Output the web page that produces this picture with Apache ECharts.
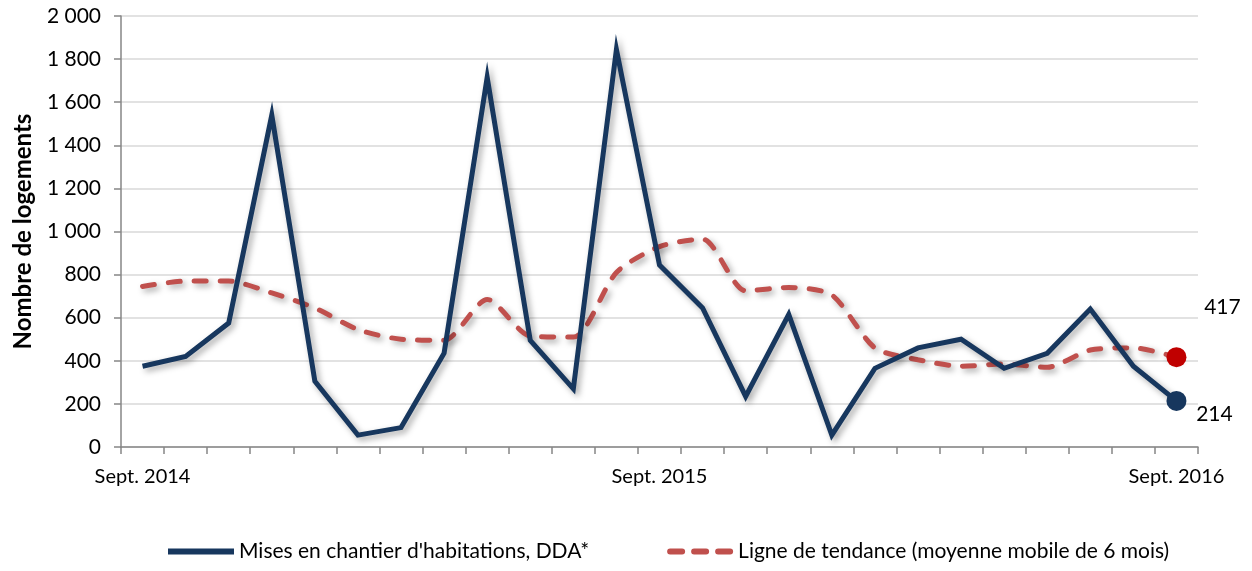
<!DOCTYPE html>
<html>
<head>
<meta charset="utf-8">
<script src="https://cdn.jsdelivr.net/npm/echarts@6/dist/echarts.min.js"></script>
<style>
	html, body { margin: 0; padding: 0; background: #fff; }
	#main { width: 1252px; height: 571px; }
</style>
</head>
<body>
<div id="main"></div>
<script>
// mois, de sept. 2014 à sept. 2016
var months = ['Sept. 2014', 'Oct. 2014', 'Nov. 2014', 'Déc. 2014', 'Janv. 2015', 'Févr. 2015', 'Mars 2015', 'Avr. 2015', 'Mai 2015', 'Juin 2015', 'Juil. 2015', 'Août 2015',
	'Sept. 2015', 'Oct. 2015', 'Nov. 2015', 'Déc. 2015', 'Janv. 2016', 'Févr. 2016', 'Mars 2016', 'Avr. 2016', 'Mai 2016', 'Juin 2016', 'Juil. 2016', 'Août 2016', 'Sept. 2016'];
var chantiers = [375, 420, 575, 1540, 305, 55, 90, 435, 1715, 495, 270, 1845, 845, 645, 235, 615, 55, 365, 460, 500, 365, 435, 640, 375, 214];
var tendance = [745, 770, 770, 715, 645, 545, 500, 495, 685, 515, 510, 810, 930, 965, 725, 740, 705, 460, 405, 375, 385, 370, 450, 460, 417];
var yTicks = [0, 200, 400, 600, 800, 1000, 1200, 1400, 1600, 1800, 2000];

var navy = '#17375e';
var rouge = '#c0504d';
var police = 'Lato, "Open Sans", sans-serif';

// dernier point : rond + étiquette
function lastPoint(arr, color, offset) {
	return arr.map(function (v, i) {
		if (i < arr.length - 1) return v;
		return {
			value: v,
			symbol: 'circle',
			symbolSize: 20,
			itemStyle: { color: color },
			label: {
				show: true,
				position: 'inside',
				offset: offset,
				fontSize: 21,
				fontFamily: police,
				color: '#000'
			}
		};
	});
}

var shadow = {
	shadowColor: 'rgba(0,0,0,0.35)',
	shadowBlur: 6,
	shadowOffsetX: 3,
	shadowOffsetY: 3
};

var myChart = echarts.init(document.getElementById('main'));
var option = {
	animation: false,
	grid: {
		left: 121,
		right: 54,
		top: 16,
		bottom: 124
	},
	legend: {
		bottom: 4,
		left: 163,
		itemWidth: 66,
		itemHeight: 6,
		itemGap: 78,
		textStyle: { fontSize: 21, fontFamily: police, color: '#000' },
		data: [
			{ name: "Mises en chantier d'habitations, DDA*", icon: 'rect', itemStyle: { color: navy } },
			{ name: 'Ligne de tendance (moyenne mobile de 6 mois)', icon: 'path://M3,0h12a3,3 0 0 1 0,6h-12a3,3 0 0 1 0,-6z M27,0h12a3,3 0 0 1 0,6h-12a3,3 0 0 1 0,-6z M51,0h12a3,3 0 0 1 0,6h-12a3,3 0 0 1 0,-6z', itemStyle: { color: rouge } }
		]
	},
	xAxis: {
		type: 'category',
		data: months,
		boundaryGap: true,
		axisLine: { lineStyle: { color: '#868686', width: 1.5 } },
		axisTick: { show: true, interval: 0, length: 7, lineStyle: { color: '#868686', width: 1.5 } },
		axisLabel: {
			interval: 11,
			margin: 20,
			fontSize: 20,
			fontFamily: police,
			color: '#000'
		},
		splitLine: { show: false }
	},
	yAxis: {
		type: 'value',
		min: yTicks[0],
		max: yTicks[yTicks.length - 1],
		interval: 200,
		name: 'Nombre de logements',
		nameLocation: 'middle',
		nameGap: 86,
		nameTextStyle: { fontSize: 24, fontWeight: 'bold', fontFamily: police, color: '#000' },
		axisLine: { show: true, lineStyle: { color: '#868686', width: 1.5 } },
		axisTick: { show: true, length: 7, lineStyle: { color: '#868686', width: 1.5 } },
		axisLabel: {
			margin: 20,
			fontSize: 21,
			fontFamily: police,
			color: '#000',
			formatter: function (v) {
				return String(v).replace(/\B(?=(\d{3})+(?!\d))/g, ' ');
			}
		},
		splitLine: { lineStyle: { color: '#d9d9d9', width: 1.5 } }
	},
	series: [
		{
			name: "Mises en chantier d'habitations, DDA*",
			type: 'line',
			symbol: 'none',
			showSymbol: true,
			color: navy,
			data: lastPoint(chantiers, navy, [38, 13]),
			lineStyle: Object.assign({ width: 5, color: navy, join: 'miter' }, shadow),
			z: 3
		},
		{
			name: 'Ligne de tendance (moyenne mobile de 6 mois)',
			type: 'line',
			symbol: 'none',
			showSymbol: true,
			smooth: 0.25,
			color: rouge,
			data: lastPoint(tendance, '#c00000', [46, -50]),
			lineStyle: Object.assign({ width: 5, color: rouge, type: [12, 14], cap: 'round' }, shadow),
			z: 2
		}
	]
};
myChart.setOption(option);
</script>
</body>
</html>
